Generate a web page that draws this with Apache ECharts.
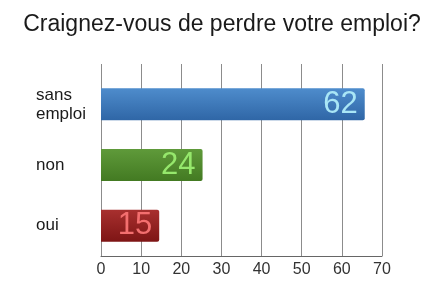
<!DOCTYPE html>
<html>
<head>
<meta charset="utf-8">
<script src="https://cdn.jsdelivr.net/npm/echarts@6/dist/echarts.min.js"></script>
<style>
  html, body { margin: 0; padding: 0; background: #fff; }
  #chart { width: 444px; height: 293px; }
</style>
</head>
<body>
<div id="chart"></div>
<script>
// categories from bottom to top
const categories = ['oui', 'non', 'sans\nemploi']
// bar lengths as drawn in the picture
const barValues = [14.5, 25.3, 65.7]
// numbers printed on the bars
const barLabels = ['15', '24', '62']
const xTicks = [0, 10, 20, 30, 40, 50, 60, 70]

const barColors = [
  ['#a8302f', '#7e1515'],
  ['#5f9a3a', '#437a22'],
  ['#4e8ccc', '#2f66a6']
]
const labelColors = ['#f36f6f', '#96e86c', '#a9e6f6']

let myChart = echarts.init(document.getElementById('chart'))
let option = {
  backgroundColor: '#fff',
  animation: false,
  title: {
    text: 'Craignez-vous de perdre votre emploi?',
    left: 'center',
    top: 8,
    textStyle: {
      fontFamily: 'Liberation Sans, Arial, sans-serif',
      fontSize: 23,
      fontWeight: 'normal',
      color: '#1a1a1a'
    }
  },
  grid: {
    left: 101,
    right: 62,
    top: 74,
    bottom: 37
  },
  xAxis: [
    {
      type: 'value',
      min: xTicks[0],
      max: xTicks[xTicks.length - 1],
      interval: 10,
      axisLine: { show: true, lineStyle: { color: '#666', width: 1 } },
      axisTick: { show: false },
      splitLine: { show: true, lineStyle: { color: '#8c8c8c', width: 1 } },
      axisLabel: {
        fontFamily: 'Liberation Sans, Arial, sans-serif',
        fontSize: 16,
        color: '#333',
        margin: 6
      }
    },
    {
      // only used for the short tick stubs above the plot
      type: 'value',
      position: 'top',
      min: xTicks[0],
      max: xTicks[xTicks.length - 1],
      interval: 10,
      axisLine: { show: false },
      axisTick: { show: true, length: 10, lineStyle: { color: '#8c8c8c' } },
      axisLabel: { show: false },
      splitLine: { show: false }
    }
  ],
  yAxis: {
    type: 'category',
    data: categories,
    axisLine: { show: true, lineStyle: { color: '#8c8c8c' } },
    axisTick: { show: false },
    axisLabel: {
      align: 'left',
      margin: 65,
      fontFamily: 'Liberation Sans, Arial, sans-serif',
      fontSize: 17,
      lineHeight: 19,
      color: '#1a1a1a'
    }
  },
  series: [{
    type: 'bar',
    barWidth: 32,
    data: barValues.map(function(v, i) {
      return {
        value: v,
        itemStyle: {
          color: new echarts.graphic.LinearGradient(0, 0, 0, 1, [
            { offset: 0, color: barColors[i][0] },
            { offset: 1, color: barColors[i][1] }
          ]),
          borderRadius: [0, 2, 2, 0]
        },
        label: {
          show: true,
          position: 'insideRight',
          distance: 7,
          formatter: barLabels[i],
          fontFamily: 'Liberation Sans, Arial, sans-serif',
          fontSize: 31,
          color: labelColors[i]
        }
      }
    })
  }]
}
myChart.setOption(option)
window.addEventListener('resize', function() {
  myChart.resize()
})
</script>
</body>
</html>
